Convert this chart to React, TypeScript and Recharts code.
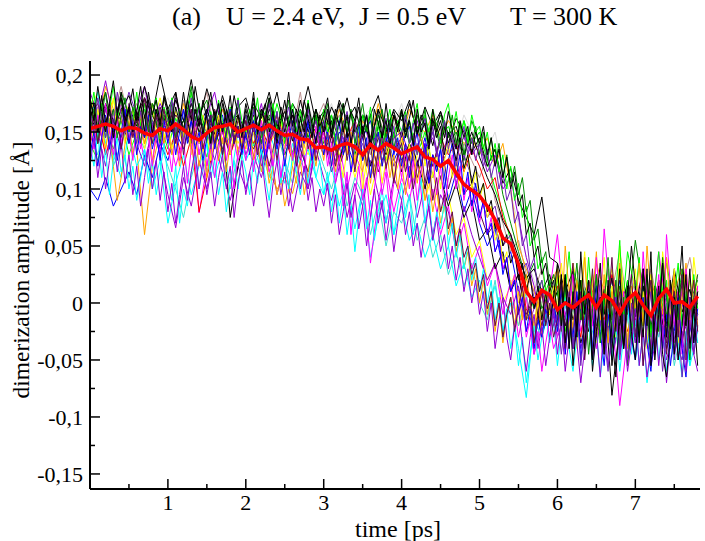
import { LineChart, Line, XAxis, YAxis } from 'recharts'

// sampling of the trajectories below
const COARSE_STEP = 0.1 // ps
const FINE_STEP = 0.05 // ps

const X_TICKS = [0.5, 1, 1.5, 2, 2.5, 3, 3.5, 4, 4.5, 5, 5.5, 6, 6.5, 7, 7.5]
const X_LABELS = [1, 2, 3, 4, 5, 6, 7]
const Y_TICKS = [-0.15, -0.125, -0.1, -0.075, -0.05, -0.025, 0, 0.025, 0.05, 0.075, 0.1, 0.125, 0.15, 0.175, 0.2]
const Y_LABELS = [-0.15, -0.1, -0.05, 0, 0.05, 0.1, 0.15, 0.2]

// single runs, dimerization amplitude in 1e-3 Å, every 0.1 ps from t = 0
const RUN_BLACK_A = [
  165, 148, 172, 158, 180, 150, 168, 145, 175, 160,
  152, 178, 160, 196, 155, 170, 148, 182, 158, 165,
  150, 175, 162, 185, 155, 168, 142, 178, 150, 170,
  148, 172, 156, 180, 150, 165, 140, 170, 152, 168,
  145, 175, 150, 162, 138, 168, 148, 155, 130, 150,
  128, 110, 95, 72, 60, 40, 22, 30, 10, 25,
  -5, 20, -15, 10, -25, 15, -10, 22, -30, 8,
  -12, 25, -20, 5, -18, 30, -8, 12, -22,
]
const RUN_BLACK_B = [
  175, 160, 185, 150, 170, 182, 158, 190, 165, 200,
  170, 185, 150, 175, 160, 188, 165, 178, 145, 172,
  180, 155, 170, 160, 185, 150, 175, 162, 190, 158,
  168, 150, 178, 160, 172, 145, 165, 182, 150, 170,
  160, 178, 148, 172, 155, 168, 140, 162, 150, 132,
  145, 120, 135, 105, 118, 90, 75, 60, 93, 40,
  35, 10, 28, -15, 5, -30, 12, -81, -20, 15,
  -5, 30, -25, 8, -15, 20, -35, 5, -10,
]
const RUN_GREEN = [
  140, 125, 155, 135, 160, 130, 150, 170, 140, 158,
  135, 162, 145, 170, 150, 128, 165, 140, 172, 150,
  160, 138, 168, 145, 175, 150, 132, 160, 145, 170,
  140, 158, 128, 150, 135, 165, 140, 155, 125, 148,
  135, 160, 130, 150, 120, 145, 155, 135, 160, 140,
  150, 125, 100, 80, 55, 35, 15, -5, 20, -10,
  10, -25, 30, 5, -15, 25, -5, 20, -30, 45,
  10, -20, 15, -10, 35, -5, 25, -15, 10,
]
const RUN_BLUE = [
  100, 90, 110, 85, 100, 115, 95, 130, 110, 140,
  125, 150, 135, 160, 140, 170, 150, 165, 130, 155,
  145, 168, 130, 150, 160, 140, 170, 135, 155, 145,
  160, 130, 150, 140, 120, 145, 160, 130, 150, 125,
  140, 155, 120, 145, 110, 135, 90, 115, 80, 100,
  70, 50, 65, 30, 45, 10, -15, 5, -30, 0,
  -20, 15, -40, -5, 10, -25, 5, -15, 20, -35,
  -10, 15, -45, 0, -20, 10, -30, 5, -15,
]
const RUN_YELLOW = [
  170, 185, 160, 178, 150, 175, 140, 165, 155, 180,
  150, 168, 135, 160, 145, 120, 150, 130, 160, 140,
  155, 135, 165, 140, 150, 125, 160, 145, 130, 155,
  135, 150, 120, 140, 110, 135, 95, 125, 140, 110,
  130, 100, 125, 90, 115, 80, 95, 60, 75, 40,
  55, 20, 35, 0, 15, -20, 5, -35, 10, -10,
  20, -15, 35, 0, -25, 15, -10, 30, -5, -30,
  10, -20, 25, -5, 40, 0, -15, 20, -10,
]
const RUN_BROWN = [
  150, 172, 145, 165, 190, 160, 175, 150, 168, 145,
  165, 150, 178, 140, 160, 185, 150, 170, 145, 165,
  140, 160, 150, 175, 145, 170, 150, 185, 140, 160,
  175, 150, 165, 140, 160, 150, 130, 165, 145, 155,
  170, 140, 155, 130, 165, 140, 150, 120, 140, 125,
  110, 130, 90, 70, 45, 55, 25, 10, 30, -5,
  15, -20, 5, 35, -10, 20, -25, 10, 45, -5,
  20, -15, 30, -5, 10, -20, 15, 40, 0,
]
const RUN_GREY = [
  175, 160, 180, 165, 145, 170, 155, 185, 160, 170,
  180, 160, 150, 170, 155, 175, 160, 148, 168, 155,
  172, 150, 165, 178, 155, 168, 145, 160, 175, 150,
  160, 175, 150, 168, 145, 162, 170, 150, 165, 155,
  175, 150, 165, 145, 170, 155, 160, 140, 165, 150,
  155, 135, 150, 115, 95, 70, 40, 20, 0, 15,
  -10, 5, -30, 15, -5, 20, -20, 0, 25, -15,
  5, -25, 15, -10, 20, -5, -30, 10, -5,
]
const RUN_VIOLET_A = [
  130, 150, 120, 160, 135, 170, 140, 120, 155, 130,
  95, 66, 110, 85, 125, 100, 140, 115, 90, 120,
  100, 130, 110, 140, 95, 125, 80, 115, 100, 135,
  110, 90, 120, 75, 105, 85, 125, 95, 70, 110,
  90, 120, 75, 105, 60, 95, 80, 50, 85, 60,
  40, 20, 35, 5, -10, 15, -25, -5, 10, -30,
  -10, 5, -40, -15, 10, -35, -5, 20, -20, -45,
  -15, 10, -30, 5, -50, -20, 0, -35, -10,
]
const RUN_CYAN = [
  160, 185, 140, 130, 110, 150, 120, 135, 100, 125,
  70, 105, 130, 95, 120, 140, 110, 135, 105, 150,
  125, 140, 115, 150, 130, 105, 140, 120, 135, 110,
  95, 120, 85, 110, 65, 100, 40, 75, 95, 60,
  85, 55, 70, 40, 60, 30, 50, 15, 35, 5,
  20, -10, 15, -25, 0, -40, -83, -15, -30, -5,
  -20, 10, -35, -5, 15, -25, 0, -45, -15, 10,
  -30, 5, -50, -20, 0, -40, -10, -55, -25,
]
const RUN_MAGENTA = [
  145, 165, 130, 155, 175, 140, 160, 125, 150, 135,
  150, 120, 145, 165, 79, 120, 150, 135, 160, 125,
  145, 130, 160, 115, 140, 150, 125, 145, 110, 135,
  150, 120, 140, 100, 130, 115, 35, 90, 120, 80,
  110, 90, 125, 70, 100, 60, 85, 45, 70, 30,
  50, 15, 35, -10, 20, -30, 5, -45, -20, 10,
  60, -15, 25, -25, 5, -40, 15, -10, -90, -30,
  0, 30, -20, 45, -5, -35, 10, -15, 25,
]
const RUN_ORANGE = [
  180, 155, 190, 170, 150, 165, 135, 60, 120, 150,
  165, 140, 175, 150, 130, 160, 145, 170, 155, 135,
  150, 165, 140, 115, 100, 110, 96, 125, 150, 140,
  165, 145, 170, 150, 135, 160, 145, 175, 150, 165,
  140, 170, 155, 150, 165, 145, 160, 150, 140, 145,
  130, 145, 120, 140, 100, 50, 30, 10, -10, 15,
  30, 5, -20, 20, -5, 35, 10, -15, 15, -30,
  5, 25, -10, 15, -25, 10, 30, -5, 15,
]
const RUN_INDIGO = [
  155, 140, 170, 150, 160, 185, 165, 145, 175, 155,
  160, 145, 170, 135, 160, 150, 125, 155, 140, 165,
  130, 150, 120, 145, 160, 135, 150, 125, 165, 140,
  145, 115, 135, 150, 125, 140, 110, 130, 145, 120,
  135, 115, 140, 125, 150, 120, 135, 105, 130, 110,
  95, 75, 85, 50, 60, 25, 35, 5, -15, 10,
  -20, 0, -35, -10, 15, -30, -5, -45, -15, 5,
  -25, 10, -40, -10, 5, -30, -50, -15, -35,
]
const RUN_MAROON = [
  165, 175, 150, 170, 160, 140, 165, 180, 150, 172,
  145, 165, 155, 135, 160, 145, 170, 150, 130, 160,
  145, 135, 155, 120, 150, 140, 165, 135, 115, 145,
  130, 150, 120, 140, 155, 125, 145, 115, 135, 150,
  125, 140, 110, 135, 120, 145, 100, 125, 95, 105,
  80, 60, 70, 40, 15, 25, -10, 5, -20, 15,
  -5, 20, -25, 10, -15, 25, -5, -30, 0, 15,
  -20, 5, -10, 20, -35, 0, 15, -20, 10,
]
const RUN_TURQUOISE = [
  150, 130, 160, 120, 140, 110, 150, 135, 160, 140,
  120, 100, 75, 110, 135, 115, 140, 125, 100, 130,
  145, 120, 135, 110, 150, 125, 105, 135, 115, 140,
  120, 100, 125, 85, 110, 95, 60, 90, 50, 80,
  70, 95, 55, 75, 40, 60, 25, 45, 15, 35,
  0, -15, 20, -30, 5, -20, 10, -45, -10, 15,
  -25, 0, -35, 20, -10, -40, 5, -20, 30, -15,
  -50, -10, 15, -30, 0, -55, -20, 5, -25,
]
const RUN_GREEN4 = [
  160, 140, 170, 150, 185, 165, 145, 175, 160, 150,
  170, 150, 160, 140, 165, 178, 150, 135, 160, 145,
  165, 150, 140, 165, 155, 130, 150, 170, 145, 160,
  150, 165, 140, 160, 130, 155, 145, 165, 140, 150,
  165, 140, 155, 130, 150, 165, 140, 150, 125, 160,
  140, 120, 135, 95, 70, 45, 20, 35, -5, 10,
  -15, 25, -35, 0, 20, -20, 5, -40, 15, -10,
  55, 10, -25, 20, -10, 25, -30, 0, 20,
]
const RUN_RED = [
  140, 160, 130, 150, 170, 145, 160, 140, 165, 150,
  130, 150, 120, 145, 80, 110, 140, 155, 130, 150,
  160, 140, 155, 135, 165, 145, 125, 150, 140, 160,
  135, 150, 125, 145, 160, 130, 140, 120, 150, 135,
  145, 125, 150, 135, 120, 145, 130, 140, 115, 135,
  120, 100, 110, 75, 60, 30, -5, -25, 10, -10,
  15, -20, 5, -30, 20, 0, -15, 25, -5, -25,
  10, -15, 20, -5, -30, 15, 0, -20, 10,
]
const RUN_BLACK_C = [
  170, 150, 175, 160, 145, 172, 155, 180, 165, 150,
  168, 145, 160, 175, 150, 165, 140, 158, 75, 120,
  150, 165, 140, 170, 155, 145, 165, 135, 160, 150,
  140, 160, 125, 150, 135, 155, 120, 145, 130, 150,
  115, 140, 125, 100, 130, 110, 85, 105, 75, 90,
  55, 65, 30, 45, 10, 25, -15, 5, -25, -5,
  10, -20, 5, -35, -10, 15, -30, 0, -20, 20,
  -10, 15, -25, 5, -40, -5, 20, -15, 0,
]
const RUN_VIOLET_B = [
  185, 165, 195, 160, 180, 150, 170, 190, 155, 175,
  160, 180, 150, 170, 140, 165, 185, 150, 170, 145,
  165, 150, 175, 140, 160, 145, 130, 155, 100, 140,
  160, 140, 155, 130, 150, 165, 135, 150, 120, 145,
  150, 130, 160, 135, 145, 120, 150, 135, 145, 130,
  140, 115, 130, 100, 110, 75, 40, 15, -20, 5,
  -30, -10, 15, -40, -5, -25, 10, -50, -15, 0,
  -35, -5, -55, -20, 10, -45, -15, -30, -60,
]

// more runs, same units, every 0.05 ps from t = 0 (one line per ps)
const FINE_BLACK_A = [
  160, 175, 150, 182, 158, 170, 145, 165, 185, 160, 172, 150, 168, 190, 162, 178, 148, 170, 155, 180,
  165, 150, 172, 158, 185, 160, 145, 170, 155, 178, 162, 140, 168, 150, 175, 158, 182, 150, 165, 145,
  170, 155, 180, 148, 165, 175, 150, 168, 140, 160, 178, 155, 170, 145, 162, 150, 175, 158, 140, 165,
  150, 170, 145, 162, 175, 150, 165, 140, 158, 172, 148, 165, 135, 155, 170, 145, 160, 138, 165, 150,
  168, 145, 160, 138, 170, 150, 158, 135, 162, 145, 155, 130, 150, 140, 125, 145, 118, 130, 105, 120,
  95, 105, 80, 90, 65, 75, 50, 60, 35, 45, 20, 35, 10, 25, -5, 15, -15, 10, -20, 5,
  35, -20, 25, -40, 10, -30, 45, -10, 20, -50, 0, 35, -35, 15, -55, -15, 30, -40, 5, 50,
  15, -35, 30, -20, 45, -50, -10, 35, -30, 20, -45, 5, 50, -20, 30, -35, 10,
]
const FINE_BLACK_B = [
  180, 160, 190, 168, 150, 175, 195, 165, 180, 155, 170, 188, 160, 175, 150, 185, 165, 178, 158, 182,
  170, 155, 185, 165, 150, 178, 160, 190, 170, 148, 168, 185, 160, 175, 150, 170, 158, 182, 165, 150,
  175, 160, 185, 150, 170, 158, 180, 165, 145, 172, 160, 185, 155, 170, 150, 178, 162, 145, 170, 155,
  165, 180, 150, 170, 155, 175, 145, 168, 160, 180, 150, 165, 140, 170, 158, 145, 175, 150, 165, 155,
  170, 150, 162, 178, 148, 165, 155, 140, 170, 150, 160, 145, 168, 152, 135, 160, 145, 155, 130, 150,
  140, 155, 130, 145, 120, 135, 110, 128, 100, 115, 85, 95, 60, 70, 40, 50, 25, 35, 10, 20,
  -10, 25, -35, 5, -55, -15, 20, -40, 10, -60, -25, 5, -45, 20, -30, -65, -5, -40, 15, -25,
  -50, 5, -30, 30, -55, -15, 15, -45, -65, -30, 5, -50, -20, 25, -40, -5, -55,
]
const FINE_CYAN = [
  140, 120, 150, 110, 135, 95, 125, 145, 115, 130, 100, 120, 90, 110, 135, 105, 125, 95, 115, 140,
  110, 90, 120, 70, 100, 85, 115, 130, 100, 120, 140, 110, 125, 95, 115, 80, 105, 125, 100, 130,
  115, 95, 125, 105, 135, 110, 90, 120, 140, 105, 125, 100, 130, 115, 95, 120, 105, 135, 110, 125,
  95, 115, 80, 105, 70, 95, 60, 85, 45, 75, 100, 65, 90, 55, 80, 100, 70, 90, 60, 85,
  105, 75, 95, 60, 85, 110, 70, 95, 55, 80, 65, 90, 50, 70, 40, 60, 30, 50, 20, 40,
  10, 30, 0, 20, -15, 5, -25, -5, -40, -20, -55, -30, -70, -45, -20, -50, -30, -10, -35, -15,
  -55, -25, 5, -40, -60, -30, 10, -45, -15, -55, -25, -65, -35, -5, -50, -20, -60, -30, 0, -45,
  -15, -55, -25, -70, -40, -5, -50, -20, -60, -35, 0, -40, -65, -25, -55, -10, -35,
]
const FINE_MAGENTA = [
  155, 135, 165, 145, 175, 150, 130, 160, 140, 170, 150, 125, 155, 135, 165, 145, 120, 150, 130, 160,
  140, 115, 150, 125, 145, 105, 135, 160, 130, 150, 120, 140, 110, 135, 155, 125, 145, 100, 130, 150,
  125, 145, 115, 140, 160, 130, 150, 120, 145, 110, 135, 155, 125, 150, 130, 115, 145, 125, 155, 135,
  150, 120, 140, 105, 130, 85, 115, 60, 95, 120, 90, 110, 75, 100, 125, 95, 115, 80, 105, 130,
  110, 135, 100, 125, 90, 115, 140, 105, 130, 95, 120, 85, 110, 130, 100, 120, 90, 110, 80, 100,
  70, 90, 60, 75, 45, 55, 30, 40, 10, 25, -10, 5, -30, -15, -45, -25, -60, -35, -15, -40,
  -30, 0, -45, -10, 25, -25, 5, -40, 20, -20, 40, -5, 65, 25, -15, 20, -35, 10, -55, -20,
  15, -30, 45, 0, -40, -15, 25, -35, 60, 15, -20, 10, -45, 30, -5, -35, 15,
]
const FINE_VIOLET = [
  120, 145, 110, 135, 100, 125, 150, 115, 140, 105, 130, 95, 120, 85, 110, 135, 100, 125, 90, 115,
  80, 105, 70, 95, 120, 90, 115, 135, 100, 125, 95, 115, 85, 110, 130, 100, 120, 75, 105, 125,
  95, 115, 85, 110, 130, 100, 75, 105, 125, 95, 115, 85, 105, 130, 100, 120, 90, 110, 80, 100,
  85, 105, 70, 95, 60, 80, 105, 75, 95, 65, 85, 50, 75, 100, 70, 90, 55, 80, 45, 70,
  90, 60, 80, 50, 70, 40, 65, 85, 55, 75, 45, 60, 30, 50, 20, 40, 10, 30, 0, 20,
  -10, 10, -25, 0, -40, -15, 5, -30, -50, -20, -5, -35, -60, -30, -10, -40, -20, -55, -30, -5,
  -45, -15, -60, -30, 5, -35, -70, -40, -5, -50, -25, -65, -15, -55, -35, 0, -50, -20, -60, -35,
  -5, -55, -25, -65, -40, -10, -55, -20, -70, -35, -5, -50, -25, -60, -15, -45, -20,
]
const FINE_GREEN = [
  165, 185, 155, 175, 145, 170, 190, 160, 180, 150, 170, 160, 185, 155, 175, 145, 165, 180, 150, 172,
  160, 180, 150, 170, 145, 165, 185, 155, 175, 160, 140, 168, 150, 178, 160, 145, 170, 155, 180, 160,
  150, 170, 158, 180, 145, 168, 155, 175, 150, 165, 140, 160, 175, 150, 168, 155, 178, 145, 165, 150,
  170, 150, 165, 140, 160, 175, 148, 168, 155, 140, 165, 150, 172, 145, 160, 135, 155, 170, 145, 160,
  150, 168, 140, 160, 175, 145, 165, 150, 170, 155, 140, 165, 175, 150, 168, 145, 160, 140, 165, 150,
  155, 135, 150, 125, 140, 115, 130, 100, 120, 90, 105, 75, 85, 50, 60, 30, 40, 10, 20, -5,
  25, -20, 10, 45, 0, -30, 20, -15, 40, -5, 25, -35, 5, 30, -25, 10, 55, -15, 20, -30,
  5, 40, -15, 25, -30, 10, 45, -5, 20, -35, 5, 35, -20, 10, -15, 25, -5,
]
const FINE_ORANGE = [
  150, 170, 140, 160, 135, 155, 120, 90, 110, 140, 160, 130, 150, 165, 140, 155, 125, 145, 170, 140,
  155, 130, 145, 120, 150, 165, 135, 150, 120, 140, 110, 135, 155, 125, 145, 115, 140, 160, 130, 150,
  135, 155, 125, 145, 115, 130, 105, 120, 95, 110, 85, 100, 120, 105, 125, 95, 115, 140, 120, 145,
  125, 150, 130, 115, 140, 160, 130, 150, 120, 145, 115, 135, 105, 130, 150, 120, 140, 110, 130, 100,
  125, 95, 115, 135, 105, 125, 90, 110, 80, 100, 70, 85, 60, 75, 45, 60, 30, 45, 15, 30,
  0, 20, -10, 10, -25, 0, -35, -10, 5, -20, 10, -15, 25, 0, -20, 5, -30, -10, 15, -5,
  30, -15, 50, 10, -25, 20, -5, 40, -20, 5, 45, -15, 25, -35, 10, -20, 35, 0, -40, 15,
  -5, 35, -20, 50, 5, -25, 20, -10, 40, -5, 25, -30, 5, 35, -15, 20, -20,
]
const FINE_BLUE = [
  130, 150, 120, 145, 165, 135, 155, 125, 150, 170, 140, 160, 130, 155, 145, 165, 135, 150, 125, 160,
  140, 160, 130, 150, 170, 140, 160, 135, 150, 125, 145, 165, 135, 155, 130, 150, 170, 140, 155, 130,
  150, 130, 160, 140, 155, 125, 145, 165, 135, 150, 120, 145, 160, 130, 150, 140, 160, 125, 145, 155,
  130, 150, 120, 145, 160, 130, 150, 115, 140, 155, 125, 145, 110, 135, 150, 120, 140, 160, 130, 145,
  120, 140, 110, 135, 150, 120, 140, 105, 130, 115, 135, 100, 125, 140, 110, 130, 95, 115, 85, 105,
  75, 90, 60, 70, 45, 55, 25, 40, 10, 20, -10, 5, -25, -5, -40, -15, -30, -5, -20, 5,
  -25, 15, -45, -5, -30, 10, -50, -15, 5, -40, 15, -25, -55, -10, -35, 5, -45, -20, 10, -30,
  -50, -15, 5, -35, -60, -20, 10, -40, -10, -55, -25, 5, -40, -65, -20, -35, -5,
]
const FINE_INDIGO = [
  170, 150, 180, 160, 145, 170, 155, 185, 165, 150, 175, 160, 140, 168, 150, 178, 158, 145, 170, 155,
  160, 178, 150, 168, 140, 162, 180, 155, 170, 148, 165, 135, 158, 175, 150, 165, 140, 160, 178, 150,
  165, 145, 170, 155, 135, 160, 175, 150, 168, 140, 158, 172, 150, 165, 135, 155, 170, 148, 160, 140,
  155, 170, 145, 160, 135, 155, 168, 142, 160, 130, 150, 165, 140, 155, 125, 150, 162, 138, 155, 130,
  150, 165, 140, 158, 130, 150, 162, 135, 155, 128, 148, 160, 135, 150, 120, 140, 155, 130, 145, 125,
  140, 120, 135, 110, 125, 100, 115, 90, 100, 70, 80, 50, 60, 30, 40, 10, 20, -5, 10, -20,
  -10, -45, -15, 10, -40, -5, -55, -20, 5, -45, -15, 20, -30, -60, -20, 5, -45, -10, -50, 0,
  -35, 5, -55, -20, 10, -45, -10, -60, -25, 5, -50, -15, -65, -30, 5, -45, -20,
]
const FINE_MAROON = [
  145, 165, 140, 160, 150, 175, 145, 165, 135, 158, 170, 145, 162, 150, 180, 155, 140, 165, 150, 170,
  150, 168, 140, 160, 130, 155, 170, 145, 160, 135, 150, 165, 140, 158, 130, 150, 168, 140, 155, 135,
  160, 140, 155, 130, 150, 165, 140, 155, 125, 148, 160, 135, 150, 120, 145, 160, 135, 150, 125, 140,
  155, 130, 148, 120, 140, 155, 125, 145, 115, 138, 150, 120, 140, 110, 135, 148, 118, 135, 105, 130,
  140, 115, 130, 100, 120, 135, 105, 125, 90, 110, 80, 95, 65, 80, 50, 65, 40, 50, 25, 35,
  10, 25, -5, 10, -20, 0, -30, -10, 5, -25, -5, 15, -15, 5, -35, -10, 10, -20, 0, -30,
  -15, 20, -40, 5, 35, -25, 10, -50, -10, 30, -30, 5, -45, -5, 40, -25, 10, -40, -5, 25,
  -30, 5, -55, -10, 20, -40, -5, 35, -45, -15, 10, -30, 25, -50, -5, 20, -25,
]
const FINE_GREEN4 = [
  150, 170, 140, 165, 185, 155, 170, 145, 165, 180, 150, 172, 160, 140, 165, 150, 175, 160, 140, 165,
  155, 175, 145, 165, 150, 170, 190, 160, 175, 150, 165, 140, 160, 175, 150, 168, 145, 162, 178, 150,
  165, 148, 172, 155, 140, 165, 180, 150, 168, 140, 160, 178, 150, 165, 145, 160, 175, 150, 165, 140,
  160, 175, 145, 165, 140, 160, 150, 170, 140, 158, 175, 150, 165, 138, 155, 170, 145, 160, 135, 155,
  170, 145, 160, 140, 165, 150, 170, 140, 160, 150, 135, 160, 145, 165, 140, 158, 130, 150, 140, 155,
  130, 150, 125, 145, 120, 140, 110, 130, 105, 120, 95, 110, 80, 90, 55, 65, 35, 45, 15, 25,
  10, -25, 20, -40, 5, 35, -15, 10, -45, -5, 25, -35, 0, 40, -15, 20, -40, 5, -55, -20,
  10, -30, 25, -5, -45, 15, -25, 40, 5, -40, 10, -15, 30, -5, -50, 5, 25,
]
const FINE_YELLOW = [
  160, 140, 170, 150, 135, 160, 180, 150, 165, 140, 155, 170, 145, 160, 135, 155, 175, 150, 165, 145,
  160, 135, 150, 170, 145, 160, 130, 155, 140, 165, 150, 125, 145, 165, 140, 155, 130, 150, 165, 140,
  155, 130, 150, 140, 160, 135, 150, 125, 145, 160, 135, 150, 120, 140, 155, 130, 145, 125, 140, 160,
  135, 150, 120, 145, 130, 110, 135, 150, 125, 140, 100, 125, 145, 115, 135, 105, 125, 140, 110, 130,
  145, 120, 140, 110, 130, 150, 120, 140, 110, 130, 100, 125, 140, 110, 125, 95, 115, 130, 100, 115,
  90, 105, 75, 85, 55, 65, 35, 45, 15, 25, 0, 10, -15, -5, -25, 0, -15, 10, -10, 15,
  -5, 35, 5, -25, 20, -40, 10, 45, -10, 25, -35, 5, 40, -20, 15, -30, 50, 10, -35, 5,
  30, -15, 10, -40, 25, 0, -25, 45, 15, -10, 30, -35, 5, 25, -20, 40, 10,
]

// average over all runs, every 0.1 ps
const MEAN = [
  153, 155, 157, 155, 151, 154, 153, 149, 147, 153,
  151, 157, 152, 146, 143, 149, 154, 155, 157, 150,
  153, 156, 152, 156, 151, 147, 148, 144, 143, 136,
  137, 134, 138, 140, 137, 130, 139, 134, 140, 136,
  131, 134, 137, 128, 126, 120, 125, 114, 104, 99,
  94, 85, 73, 57, 52, 34, 10, 1, 11, 7,
  -6, 0, -4, 2, 7, -4, 7, 2, -9, 3,
  9, -2, -11, 4, 12, 0, 1, -4, 6,
]

const COARSE_RUNS = [
  RUN_YELLOW, RUN_GREY, RUN_BROWN, RUN_ORANGE, RUN_GREEN, RUN_CYAN,
  RUN_TURQUOISE, RUN_MAGENTA, RUN_BLUE, RUN_RED, RUN_GREEN4, RUN_VIOLET_A,
  RUN_INDIGO, RUN_VIOLET_B, RUN_MAROON, RUN_BLACK_C, RUN_BLACK_A, RUN_BLACK_B,
]
const COARSE_COLORS = [
  '#ffff00', '#dcdcdc', '#bc8f8f', '#ffa500', '#00ff00', '#00ffff',
  '#40e0d0', '#ff00ff', '#0000ff', '#ff0000', '#008b00', '#9400d3',
  '#7221bc', '#9400d3', '#670748', '#000000', '#000000', '#000000',
]
const FINE_RUNS = [
  FINE_YELLOW, FINE_GREEN, FINE_ORANGE, FINE_CYAN, FINE_MAGENTA, FINE_BLUE,
  FINE_GREEN4, FINE_VIOLET, FINE_INDIGO, FINE_MAROON, FINE_BLACK_A, FINE_BLACK_B,
]
const FINE_COLORS = [
  '#ffff00', '#00ff00', '#ffa500', '#00ffff', '#ff00ff', '#0000ff',
  '#008b00', '#9400d3', '#7221bc', '#670748', '#000000', '#000000',
]

const ratio = Math.round(COARSE_STEP / FINE_STEP)
const chartData = FINE_BLACK_A.map((_, i) => {
  const row: Record<string, number | null> = { t: i * FINE_STEP }
  const j = i % ratio === 0 ? i / ratio : -1
  row.mean = j >= 0 ? MEAN[j] / 1000 : null
  COARSE_RUNS.forEach((run, k) => {
    row[`c${k}`] = j >= 0 ? run[j] / 1000 : null
  })
  FINE_RUNS.forEach((run, k) => {
    row[`f${k}`] = run[i] / 1000
  })
  return row
})

const FONT = '"Liberation Serif", "Times New Roman", serif'
const isIn = (v: number, list: number[]) => list.some((l) => Math.abs(l - v) < 1e-6)
const comma = (v: number) => String(v).replace('.', ',')

function BottomTick({ x, y, payload }: any) {
  const major = isIn(payload.value, X_LABELS)
  return (
    <g>
      <line x1={x} x2={x} y1={y} y2={y - (major ? 10 : 5)} stroke="#000" strokeWidth={1.5} />
      {major && (
        <text x={x} y={y + 21} textAnchor="middle" fontSize={22} style={{ fontFamily: FONT }} fill="#000">
          {payload.value}
        </text>
      )}
    </g>
  )
}

function TopTick({ x, y, payload }: any) {
  const major = isIn(payload.value, X_LABELS)
  return <line x1={x} x2={x} y1={y} y2={y + (major ? 10 : 5)} stroke="#000" strokeWidth={1.5} />
}

function LeftTick({ x, y, payload }: any) {
  const major = isIn(payload.value, Y_LABELS)
  return (
    <g>
      <line x1={x} x2={x + (major ? 10 : 5)} y1={y} y2={y} stroke="#000" strokeWidth={1.5} />
      {major && (
        <text x={x - 7} y={y + 8} textAnchor="end" fontSize={22} style={{ fontFamily: FONT }} fill="#000">
          {comma(payload.value)}
        </text>
      )}
    </g>
  )
}

function RightTick({ x, y, payload }: any) {
  const major = isIn(payload.value, Y_LABELS)
  return <line x1={x} x2={x - (major ? 10 : 5)} y1={y} y2={y} stroke="#000" strokeWidth={1.5} />
}

const frame = { stroke: '#000', strokeWidth: 2 }

export default function App() {
  return (
    <div style={{ position: 'absolute', left: 0, top: 0, width: 705, height: 541, background: '#fff' }}>
      <LineChart
        width={705}
        height={541}
        data={chartData}
        margin={{ top: 61, right: 5, bottom: 12, left: 50 }}
      >
        <XAxis
          xAxisId="b"
          type="number"
          dataKey="t"
          domain={[0, 7.83]}
          allowDataOverflow
          ticks={X_TICKS}
          height={40}
          tickSize={0}
          tickMargin={0}
          axisLine={frame}
          tickLine={false}
          tick={(p: any) => <BottomTick {...p} />}
        />
        <XAxis
          xAxisId="top"
          orientation="top"
          type="number"
          dataKey="t"
          domain={[0, 7.83]}
          allowDataOverflow
          ticks={X_TICKS}
          height={0}
          tickSize={0}
          tickMargin={0}
          axisLine={frame}
          tickLine={false}
          tick={(p: any) => <TopTick {...p} />}
        />
        <YAxis
          yAxisId="l"
          type="number"
          domain={[-0.1632, 0.2123]}
          allowDataOverflow
          ticks={Y_TICKS}
          width={40}
          tickSize={0}
          tickMargin={0}
          axisLine={frame}
          tickLine={false}
          tick={(p: any) => <LeftTick {...p} />}
        />
        <YAxis
          yAxisId="r"
          orientation="right"
          type="number"
          domain={[-0.1632, 0.2123]}
          allowDataOverflow
          ticks={Y_TICKS}
          width={0}
          tickSize={0}
          tickMargin={0}
          axisLine={frame}
          tickLine={false}
          tick={(p: any) => <RightTick {...p} />}
        />
        {COARSE_RUNS.map((_, k) => (
          <Line
            key={`c${k}`}
            xAxisId="b"
            yAxisId="l"
            dataKey={`c${k}`}
            stroke={COARSE_COLORS[k]}
            strokeWidth={1}
            dot={false}
            type="linear"
            connectNulls
            isAnimationActive={false}
          />
        ))}
        {FINE_RUNS.map((_, k) => (
          <Line
            key={`f${k}`}
            xAxisId="b"
            yAxisId="l"
            dataKey={`f${k}`}
            stroke={FINE_COLORS[k]}
            strokeWidth={1}
            dot={false}
            type="linear"
            isAnimationActive={false}
          />
        ))}
        <Line
          xAxisId="top"
          yAxisId="r"
          dataKey="mean"
          stroke="#ff0000"
          strokeWidth={3.5}
          dot={false}
          type="linear"
          connectNulls
          isAnimationActive={false}
        />
      </LineChart>
      <svg
        width={705}
        height={541}
        style={{ position: 'absolute', left: 0, top: 0, pointerEvents: 'none', fontFamily: FONT }}
      >
        <g fontSize={26}>
          <text x={172} y={25}>(a)</text>
          <text x={226} y={25}>U = 2.4 eV,</text>
          <text x={359} y={25}>J = 0.5 eV</text>
          <text x={510} y={25}>T = 300 K</text>
        </g>
        <text x={398} y={537} textAnchor="middle" fontSize={24}>time [ps]</text>
        <text x={29} y={270} textAnchor="middle" fontSize={23.5} transform="rotate(-90 29 270)">
          dimerization amplitude [Å]
        </text>
      </svg>
    </div>
  )
}
